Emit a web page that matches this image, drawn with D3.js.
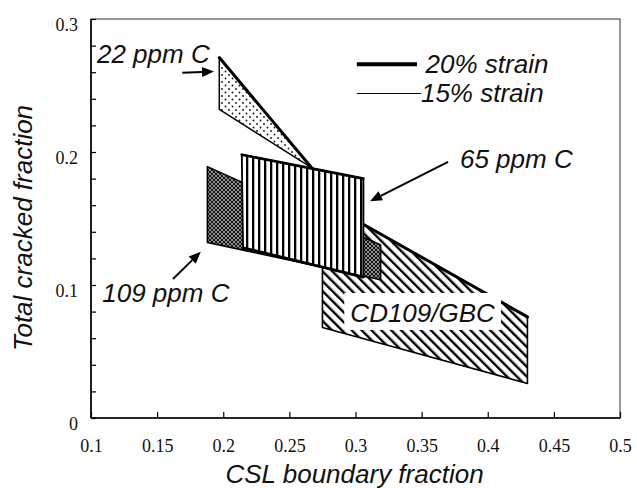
<!DOCTYPE html>
<html><head><meta charset="utf-8">
<script src="https://cdn.jsdelivr.net/npm/d3@7"></script>
<style>html,body{margin:0;padding:0;background:#fff;}svg{display:block;}</style>
</head><body>
<script>
// ---- data ----
const xTicks = [0.1,0.15,0.2,0.25,0.3,0.35,0.4,0.45,0.5];
const xTickLabels = ["0.1","0.15","0.2","0.25","0.3","0.35","0.4","0.45","0.5"];
const yTicks = [0,0.1,0.2,0.3];
const yTickLabels = ["0","0.1","0.2","0.3"];
const yMinor = [0.02,0.04,0.06,0.08,0.12,0.14,0.16,0.18,0.22,0.24,0.26,0.28];
// regions: [CSL boundary fraction, total cracked fraction]
const c22ppm   = [[0.197,0.271],[0.267,0.188],[0.197,0.232]];
const c109ppm  = [[0.188,0.189],[0.319,0.130],[0.319,0.104],[0.188,0.132]];
const c65ppm   = [[0.214,0.198],[0.306,0.180],[0.306,0.106],[0.215,0.128]];
const cd109gbc = [[0.275,0.163],[0.430,0.076],[0.430,0.026],[0.275,0.068]];
const labels = [
  {text:"22 ppm C", x:0.1045, y:0.267, anchor:"start"},
  {text:"65 ppm C", x:0.3790, y:0.188, anchor:"start"},
  {text:"109 ppm C", x:0.1085, y:0.0873, anchor:"start"}
];
const arrows = [
  {from:[0.1690,0.2595], to:[0.1930,0.2605]},
  {from:[0.3700,0.1925], to:[0.3110,0.1630]},
  {from:[0.1620,0.1045], to:[0.1830,0.1250]}
];
const legendItems = [{label:"20% strain", w:4, y:0.2660, x1:0.3010, x2:0.3465, tx:0.3530},
                     {label:"15% strain", w:1.2, y:0.2440, x1:0.3010, x2:0.3495, tx:0.3495}];

// ---- layout ----
const W=637,H=488;
const svg=d3.select("body").append("svg").attr("width",W).attr("height",H);
const x=d3.scaleLinear().domain([0.1,0.5]).range([91,620]);
const y=d3.scaleLinear().domain([0,0.3]).range([418,19]);
const FONT="'Liberation Sans', Arial, sans-serif";
const SERIF="'Liberation Serif', 'Times New Roman', serif";

const defs=svg.append("defs");
// dots
const pd=defs.append("pattern").attr("id","dots").attr("patternUnits","userSpaceOnUse").attr("width",7).attr("height",7);
pd.append("rect").attr("width",7).attr("height",7).attr("fill","#fff");
pd.append("circle").attr("cx",1.5).attr("cy",1.5).attr("r",0.9).attr("fill","#111");
pd.append("circle").attr("cx",5).attr("cy",5).attr("r",0.9).attr("fill","#111");
// vertical stripes
const pv=defs.append("pattern").attr("id","vstripe").attr("patternUnits","userSpaceOnUse").attr("width",6).attr("height",6);
pv.append("rect").attr("width",6).attr("height",6).attr("fill","#fff");
pv.append("rect").attr("x",0).attr("width",2.3).attr("height",6).attr("fill","#000");
// diagonal
const pdg=defs.append("pattern").attr("id","diag").attr("patternUnits","userSpaceOnUse").attr("width",7).attr("height",7).attr("patternTransform","rotate(-45)");
pdg.append("rect").attr("width",7).attr("height",7).attr("fill","#fff");
pdg.append("rect").attr("x",0).attr("width",2.4).attr("height",7).attr("fill","#000");
// crosshatch (dark)
const pc=defs.append("pattern").attr("id","cross").attr("patternUnits","userSpaceOnUse").attr("width",4).attr("height",4);
pc.append("rect").attr("width",4).attr("height",4).attr("fill","#151515");
pc.append("path").attr("d","M0,0L4,4M0,4L4,0").attr("stroke","#ddd").attr("stroke-width",0.6);

// frame
svg.append("rect").attr("x",x(0.1)).attr("y",y(0.3)).attr("width",x(0.5)-x(0.1)).attr("height",y(0)-y(0.3))
  .attr("fill","none").attr("stroke","#333").attr("stroke-width",1);
svg.append("line").attr("x1",x(0.1)).attr("x2",x(0.1)).attr("y1",y(0.3)).attr("y2",y(0)).attr("stroke","#000").attr("stroke-width",1.6);
svg.append("line").attr("x1",x(0.1)).attr("x2",x(0.5)).attr("y1",y(0)).attr("y2",y(0)).attr("stroke","#000").attr("stroke-width",1.6);

// axes via d3
const gx=svg.append("g").attr("transform",`translate(0,${y(0)})`)
  .call(d3.axisTop(x).tickValues(xTicks).tickSize(6).tickFormat(""));
gx.select(".domain").remove();
gx.selectAll("line").attr("stroke","#000").attr("stroke-width",1.2);
const gxl=svg.append("g").attr("transform",`translate(0,${y(0)})`)
  .call(d3.axisBottom(x).tickValues(xTicks).tickSize(0).tickPadding(34).tickFormat((d,i)=>xTickLabels[i]));
gxl.select(".domain").remove();
gxl.selectAll("text").attr("font-family",SERIF).attr("font-size",18).attr("fill","#111").attr("dy",0);

const gy=svg.append("g").attr("transform",`translate(${x(0.1)},0)`)
  .call(d3.axisRight(y).tickValues(yTicks.concat(yMinor)).tickSize(5).tickFormat(""));
gy.select(".domain").remove();
gy.selectAll("line").attr("stroke","#000").attr("stroke-width",1.2);
const gyl=svg.append("g").attr("transform",`translate(${x(0.1)},0)`)
  .call(d3.axisLeft(y).tickValues(yTicks).tickSize(0).tickPadding(13).tickFormat((d,i)=>yTickLabels[i]));
gyl.select(".domain").remove();
gyl.selectAll("text").attr("font-family",SERIF).attr("font-size",18).attr("fill","#111").attr("dy","0.62em");

// regions
const line=d3.line().x(d=>x(d[0])).y(d=>y(d[1])).curve(d3.curveLinearClosed);
const seg=(a,b,w)=>svg.append("line").attr("x1",x(a[0])).attr("y1",y(a[1])).attr("x2",x(b[0])).attr("y2",y(b[1]))
  .attr("stroke","#000").attr("stroke-width",w).attr("stroke-linecap","round");

// CD109/GBC
svg.append("path").attr("d",line(cd109gbc)).attr("fill","url(#diag)").attr("stroke","#000").attr("stroke-width",1.6).attr("stroke-linejoin","round");
seg(cd109gbc[0],cd109gbc[1],3);
// label box
const lbx0=x(0.2915), lbx1=x(0.4100), lby0=y(0.0940), lby1=y(0.0662);
svg.append("rect").attr("x",lbx0).attr("y",lby0).attr("width",lbx1-lbx0).attr("height",lby1-lby0).attr("fill","#fff");
svg.append("text").attr("x",(lbx0+lbx1)/2).attr("y",y(0.0722)).attr("text-anchor","middle")
  .attr("font-family",FONT).attr("font-style","italic").attr("font-size",26).attr("fill","#111").text("CD109/GBC");

// 109 ppm
svg.append("path").attr("d",line(c109ppm)).attr("fill","url(#cross)").attr("stroke","#000").attr("stroke-width",1.6).attr("stroke-linejoin","round");
// 65 ppm
svg.append("path").attr("d",line(c65ppm)).attr("fill","url(#vstripe)").attr("stroke","#000").attr("stroke-width",1.8).attr("stroke-linejoin","round");
seg(c65ppm[0],c65ppm[1],2.6);
seg(c65ppm[2],c65ppm[3],2.8);
// 22 ppm
svg.append("path").attr("d",line(c22ppm)).attr("fill","url(#dots)").attr("stroke","#000").attr("stroke-width",1.5).attr("stroke-linejoin","round");
seg(c22ppm[0],c22ppm[1],3);

// labels
labels.forEach(l=>{
  svg.append("text").attr("x",x(l.x)).attr("y",y(l.y)).attr("text-anchor",l.anchor)
    .attr("font-family",FONT).attr("font-style","italic").attr("font-size",26).attr("fill","#111").text(l.text);
});
// arrows
arrows.forEach(a=>{
  const x1=x(a.from[0]),y1=y(a.from[1]),x2=x(a.to[0]),y2=y(a.to[1]);
  const ang=Math.atan2(y2-y1,x2-x1), L=12, hw=5;
  const bx=x2-L*Math.cos(ang), by=y2-L*Math.sin(ang);
  svg.append("line").attr("x1",x1).attr("y1",y1).attr("x2",bx).attr("y2",by).attr("stroke","#000").attr("stroke-width",2);
  const p=[[x2,y2],[bx+hw*Math.sin(ang),by-hw*Math.cos(ang)],[bx-hw*Math.sin(ang),by+hw*Math.cos(ang)]];
  svg.append("polygon").attr("points",p.map(q=>q.join(",")).join(" ")).attr("fill","#000");
});

// legend
legendItems.forEach(l=>{
  svg.append("line").attr("x1",x(l.x1)).attr("x2",x(l.x2)).attr("y1",y(l.y)).attr("y2",y(l.y)).attr("stroke","#000").attr("stroke-width",l.w);
  svg.append("text").attr("x",x(l.tx)).attr("y",y(l.y)+8.5).attr("font-family",FONT).attr("font-style","italic")
    .attr("font-size",26).attr("fill","#111").text(l.label);
});

// axis titles
svg.append("text").attr("x",(x(0.1)+x(0.5))/2 - 1).attr("y",483).attr("text-anchor","middle")
  .attr("font-family",FONT).attr("font-style","italic").attr("font-size",26).attr("fill","#111").text("CSL boundary fraction");
svg.append("text").attr("transform","translate(32,228) rotate(-90)").attr("text-anchor","middle")
  .attr("font-family",FONT).attr("font-style","italic").attr("font-size",26).attr("fill","#111").text("Total cracked fraction");
</script>
</body></html>
